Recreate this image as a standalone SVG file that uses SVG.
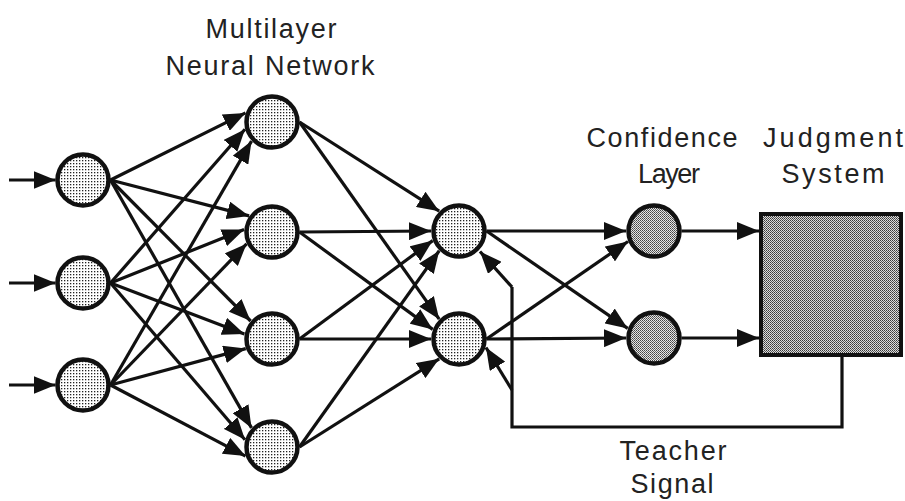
<svg xmlns="http://www.w3.org/2000/svg" width="905" height="501" viewBox="0 0 905 501">
<style>
.c{stroke:#111;stroke-width:3.2;fill:none;marker-end:url(#ah)}
.p{stroke:#111;stroke-width:3.2;fill:none}
.n{stroke:#111;stroke-width:4.5;fill:url(#dots)}
.k{stroke:#111;stroke-width:4.5;fill:url(#chk)}
.t{font-family:"Liberation Sans",Arial,Helvetica,sans-serif;font-size:27px;fill:#222;text-anchor:middle}
</style>
<defs>
<pattern id="dots" width="3" height="3" patternUnits="userSpaceOnUse">
<rect width="3" height="3" fill="#fff"/>
<rect x="1" y="1" width="1.3" height="1.3" fill="#222"/>
</pattern>
<pattern id="chk" width="2" height="2" patternUnits="userSpaceOnUse">
<rect width="2" height="2" fill="#e6e6e6"/>
<rect width="1" height="1" fill="#444"/>
<rect x="1" y="1" width="1" height="1" fill="#666"/>
</pattern>
<pattern id="chk2" width="2" height="2" patternUnits="userSpaceOnUse">
<rect width="2" height="2" fill="#dcdcdc"/>
<rect width="1" height="1" fill="#3a3a3a"/>
<rect x="1" y="1" width="1" height="1" fill="#5a5a5a"/>
</pattern>
<marker id="ah" markerUnits="userSpaceOnUse" markerWidth="22" markerHeight="18" viewBox="0 0 22 18" refX="22" refY="9" orient="auto">
<path d="M0,0 L22,9 L0,18 z" fill="#111"/>
</marker>
</defs>
<rect width="905" height="501" fill="#fff"/>
<g id="connectors">
<line class="c" x1="9" y1="180" x2="55.5" y2="180"/>
<line class="c" x1="9" y1="283" x2="55.5" y2="283"/>
<line class="c" x1="9" y1="385" x2="55.5" y2="385"/>
<line class="c" x1="110.5" y1="180" x2="245.5" y2="112.9"/>
<line class="c" x1="110.5" y1="180" x2="249.1" y2="215.9"/>
<line class="c" x1="110.5" y1="180" x2="250.6" y2="321"/>
<line class="c" x1="110.5" y1="180" x2="251.5" y2="427.9"/>
<line class="c" x1="110.5" y1="283" x2="245" y2="129.3"/>
<line class="c" x1="110.5" y1="283" x2="244.1" y2="229.6"/>
<line class="c" x1="110.5" y1="283" x2="244.4" y2="334.1"/>
<line class="c" x1="110.5" y1="283" x2="245" y2="439.8"/>
<line class="c" x1="110.5" y1="385" x2="251.5" y2="141.1"/>
<line class="c" x1="110.5" y1="385" x2="246.6" y2="243.8"/>
<line class="c" x1="110.5" y1="385" x2="245.7" y2="348.6"/>
<line class="c" x1="110.5" y1="385" x2="245.5" y2="456.1"/>
<line class="c" x1="299.5" y1="122" x2="439.2" y2="211.2"/>
<line class="c" x1="299.5" y1="122" x2="439.2" y2="319.2"/>
<line class="c" x1="299.5" y1="232" x2="431" y2="231"/>
<line class="c" x1="299.5" y1="232" x2="432.7" y2="329.4"/>
<line class="c" x1="299.5" y1="339" x2="432.7" y2="240.6"/>
<line class="c" x1="299.5" y1="339" x2="431" y2="339"/>
<line class="c" x1="299.5" y1="447" x2="439.2" y2="250.8"/>
<line class="c" x1="299.5" y1="447" x2="439.2" y2="358.8"/>
<line class="c" x1="486.5" y1="231" x2="626" y2="231"/>
<line class="c" x1="486.5" y1="231" x2="627.7" y2="328.4"/>
<line class="c" x1="486.5" y1="339" x2="628" y2="241.5"/>
<line class="c" x1="486.5" y1="339" x2="626" y2="338"/>
<line class="c" x1="681.5" y1="231" x2="759" y2="231"/>
<line class="c" x1="681.5" y1="338" x2="759" y2="338"/>
<path class="p" d="M842,357 V427 H512 V287"/>
<line class="c" x1="512" y1="287" x2="480" y2="251.5"/>
<line class="c" x1="512" y1="390" x2="486" y2="347.5"/>
</g>
<g id="input1"><circle class="n" cx="83" cy="180" r="25.5"/></g>
<g id="input2"><circle class="n" cx="83" cy="283" r="25.5"/></g>
<g id="input3"><circle class="n" cx="83" cy="385" r="25.5"/></g>
<g id="hidden1"><circle class="n" cx="272" cy="122" r="25.5"/></g>
<g id="hidden2"><circle class="n" cx="272" cy="232" r="25.5"/></g>
<g id="hidden3"><circle class="n" cx="272" cy="339" r="25.5"/></g>
<g id="hidden4"><circle class="n" cx="272" cy="447" r="25.5"/></g>
<g id="middle1"><circle class="n" cx="459" cy="231" r="25.5"/></g>
<g id="middle2"><circle class="n" cx="459" cy="339" r="25.5"/></g>
<g id="confidence1"><circle class="k" cx="654" cy="231" r="25.5"/></g>
<g id="confidence2"><circle class="k" cx="654" cy="338" r="25.5"/></g>
<g id="judgment"><rect x="761" y="214" width="140" height="141" stroke="#111" stroke-width="4" fill="url(#chk2)"/></g>
<g id="labels">
<text class="t" x="271" y="38" textLength="131" lengthAdjust="spacing">Multilayer</text>
<text class="t" x="270" y="75" textLength="209" lengthAdjust="spacing">Neural Network</text>
<text class="t" x="662" y="147" textLength="151" lengthAdjust="spacing">Confidence</text>
<text class="t" x="669" y="183" textLength="62" lengthAdjust="spacing">Layer</text>
<text class="t" x="833" y="147" textLength="140" lengthAdjust="spacing">Judgment</text>
<text class="t" x="833" y="183" textLength="103" lengthAdjust="spacing">System</text>
<text class="t" x="673" y="460" textLength="107" lengthAdjust="spacing">Teacher</text>
<text class="t" x="672" y="493" textLength="83" lengthAdjust="spacing">Signal</text>
</g>
</svg>
